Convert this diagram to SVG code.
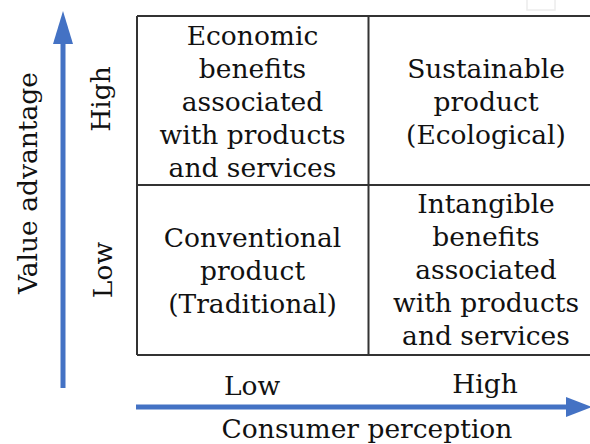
<svg xmlns="http://www.w3.org/2000/svg" width="590" height="444" viewBox="0 0 590 444">
  <style>
    .t { font-family: "DejaVu Serif", "Liberation Serif", serif; font-size: 26.5px; fill: #111; text-anchor: middle; }
    .grid { stroke: #333; stroke-width: 2; fill: none; }
    .axis { stroke: #4472C4; stroke-width: 5; fill: none; }
    .head { fill: #4472C4; }
  </style>
  <rect width="590" height="444" fill="#fff"/>
  <rect x="527" y="-4" width="28" height="14" fill="none" stroke="#ececec" stroke-width="1.5"/>

  <g id="grid">
    <path class="grid" d="M137,16 H592 M137,355 H592 M137,16 V355 M368.5,16 V355 M137,185 H592"/>
  </g>

  <g id="cell-economic">
    <text class="t" x="252.5" y="45">Economic</text>
    <text class="t" x="252.5" y="78">benefits</text>
    <text class="t" x="252.5" y="111">associated</text>
    <text class="t" x="252.5" y="144">with products</text>
    <text class="t" x="252.5" y="177">and services</text>
  </g>
  <g id="cell-sustainable">
    <text class="t" x="486" y="78">Sustainable</text>
    <text class="t" x="486" y="111">product</text>
    <text class="t" x="486" y="144">(Ecological)</text>
  </g>
  <g id="cell-conventional">
    <text class="t" x="252.5" y="247">Conventional</text>
    <text class="t" x="252.5" y="280">product</text>
    <text class="t" x="252.5" y="313">(Traditional)</text>
  </g>
  <g id="cell-intangible">
    <text class="t" x="486" y="213">Intangible</text>
    <text class="t" x="486" y="246">benefits</text>
    <text class="t" x="486" y="279">associated</text>
    <text class="t" x="486" y="312">with products</text>
    <text class="t" x="486" y="345">and services</text>
  </g>

  <g id="connectors">
    <line class="axis" x1="63" y1="388" x2="63" y2="40"/>
    <polygon class="head" points="63,11 53,44 73,44"/>
    <line class="axis" x1="136" y1="407" x2="570" y2="407"/>
    <polygon class="head" points="592,407 566,397 566,417"/>
  </g>

  <g id="labels">
    <text class="t" transform="translate(37,183) rotate(-90)">Value advantage</text>
    <text class="t" transform="translate(110,99) rotate(-90)">High</text>
    <text class="t" transform="translate(112,270) rotate(-90)">Low</text>
    <text class="t" x="252" y="395">Low</text>
    <text class="t" x="485" y="393">High</text>
    <text class="t" x="367" y="438">Consumer perception</text>
  </g>
</svg>
